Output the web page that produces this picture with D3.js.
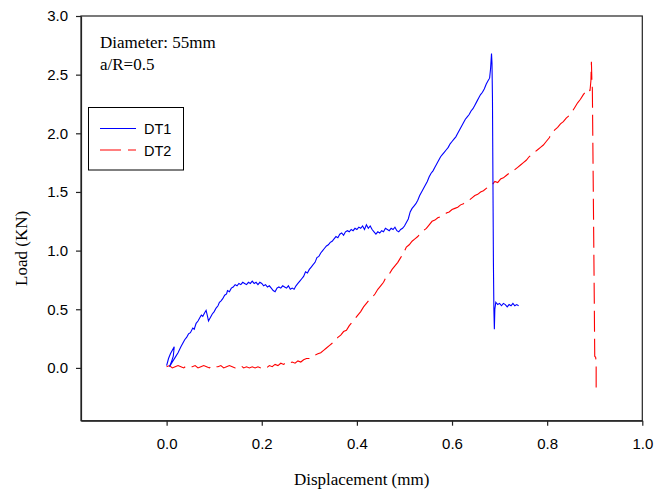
<!DOCTYPE html>
<html>
<head>
<meta charset="utf-8">
<script src="https://cdn.jsdelivr.net/npm/d3@7"></script>
<style>
  html, body { margin: 0; padding: 0; background: #fff; }
  svg { display: block; }
</style>
</head>
<body>
<svg id="chart" width="670" height="492"></svg>
<script>
// Load–displacement records of two disc tests
const seriesNames = ["DT1", "DT2"];

const dt1Disp = [0.000,0.004,0.008,0.012,0.016,0.014,0.010,0.006,0.012,0.018,0.024,0.030,0.034,0.038,0.042,0.046,0.050,0.055,0.058,0.062,0.066,0.070,0.073,0.076,0.080,0.083,0.086,0.088,0.092,0.096,0.100,0.104,0.108,0.111,0.114,0.118,0.122,0.126,0.128,0.132,0.136,0.140,0.144,0.148,0.152,0.156,0.160,0.164,0.168,0.172,0.176,0.180,0.184,0.188,0.192,0.196,0.200,0.204,0.208,0.212,0.216,0.220,0.224,0.228,0.232,0.236,0.240,0.244,0.248,0.252,0.256,0.260,0.264,0.268,0.272,0.276,0.280,0.284,0.288,0.292,0.296,0.300,0.304,0.308,0.312,0.316,0.320,0.324,0.328,0.332,0.336,0.340,0.344,0.348,0.352,0.356,0.360,0.364,0.368,0.372,0.376,0.380,0.384,0.388,0.392,0.396,0.400,0.404,0.408,0.412,0.416,0.420,0.424,0.428,0.432,0.436,0.440,0.444,0.448,0.452,0.456,0.460,0.464,0.468,0.472,0.476,0.480,0.484,0.488,0.492,0.496,0.500,0.504,0.508,0.512,0.516,0.520,0.524,0.528,0.532,0.536,0.540,0.544,0.548,0.552,0.556,0.560,0.564,0.568,0.572,0.576,0.580,0.584,0.588,0.592,0.596,0.600,0.604,0.608,0.612,0.616,0.620,0.624,0.628,0.632,0.636,0.640,0.644,0.648,0.652,0.656,0.660,0.664,0.668,0.672,0.676,0.679,0.681,0.683,0.684,0.685,0.686,0.687,0.688,0.689,0.690,0.692,0.696,0.700,0.704,0.708,0.712,0.716,0.720,0.724,0.728,0.732,0.736,0.740];
const dt1Load = [0.02,0.08,0.12,0.15,0.18,0.10,0.05,0.01,0.05,0.09,0.13,0.18,0.21,0.24,0.26,0.29,0.30,0.34,0.33,0.38,0.40,0.43,0.45,0.44,0.47,0.49,0.44,0.40,0.43,0.46,0.48,0.51,0.53,0.56,0.57,0.59,0.62,0.63,0.66,0.65,0.68,0.69,0.71,0.70,0.72,0.71,0.73,0.72,0.71,0.73,0.72,0.74,0.72,0.73,0.71,0.73,0.72,0.70,0.71,0.69,0.70,0.68,0.66,0.65,0.68,0.69,0.68,0.70,0.69,0.68,0.70,0.67,0.68,0.67,0.70,0.72,0.74,0.76,0.78,0.82,0.81,0.84,0.86,0.88,0.90,0.94,0.95,0.98,1.00,1.02,1.04,1.05,1.07,1.08,1.10,1.12,1.11,1.14,1.15,1.13,1.16,1.17,1.16,1.18,1.17,1.19,1.18,1.20,1.19,1.21,1.18,1.22,1.19,1.21,1.18,1.16,1.14,1.16,1.15,1.17,1.16,1.19,1.18,1.17,1.19,1.18,1.20,1.17,1.16,1.18,1.19,1.21,1.24,1.27,1.33,1.36,1.38,1.40,1.43,1.47,1.50,1.53,1.56,1.59,1.63,1.66,1.68,1.71,1.74,1.77,1.80,1.82,1.84,1.86,1.88,1.91,1.93,1.95,1.97,2.00,2.03,2.06,2.09,2.12,2.14,2.16,2.19,2.21,2.24,2.27,2.30,2.33,2.35,2.38,2.42,2.45,2.47,2.55,2.68,2.60,2.30,1.60,0.90,0.50,0.33,0.50,0.56,0.54,0.55,0.53,0.55,0.54,0.52,0.54,0.53,0.55,0.53,0.54,0.53];

const dt2Disp = [0.000,0.006,0.012,0.018,0.024,0.030,0.036,0.042,0.048,0.054,0.060,0.066,0.072,0.078,0.084,0.090,0.096,0.102,0.108,0.114,0.120,0.126,0.132,0.138,0.144,0.150,0.156,0.162,0.168,0.174,0.180,0.186,0.192,0.198,0.204,0.210,0.216,0.222,0.228,0.234,0.240,0.246,0.252,0.258,0.264,0.270,0.276,0.282,0.288,0.294,0.300,0.306,0.312,0.318,0.324,0.330,0.336,0.342,0.348,0.354,0.360,0.366,0.372,0.378,0.384,0.390,0.396,0.402,0.408,0.414,0.420,0.426,0.432,0.438,0.444,0.450,0.456,0.462,0.468,0.474,0.480,0.486,0.492,0.498,0.504,0.510,0.516,0.522,0.528,0.534,0.540,0.546,0.552,0.558,0.564,0.570,0.576,0.582,0.588,0.594,0.600,0.606,0.612,0.618,0.624,0.630,0.636,0.642,0.648,0.654,0.660,0.666,0.672,0.678,0.684,0.690,0.696,0.702,0.708,0.714,0.720,0.726,0.732,0.738,0.744,0.750,0.756,0.762,0.768,0.774,0.780,0.786,0.792,0.798,0.804,0.810,0.816,0.822,0.828,0.834,0.840,0.846,0.852,0.858,0.864,0.870,0.876,0.882,0.888,0.890,0.892,0.893,0.894,0.895,0.897,0.899,0.900,0.902,0.903,0.903];
const dt2Load = [0.01,0.02,0.00,0.01,0.02,0.01,0.00,0.02,0.01,0.01,0.02,0.00,0.01,0.02,0.01,0.00,0.02,0.01,0.01,0.02,0.00,0.01,0.02,0.01,0.00,0.01,0.02,0.00,0.01,0.00,0.01,0.00,0.01,0.00,0.01,0.00,0.02,0.01,0.03,0.02,0.04,0.03,0.05,0.04,0.05,0.04,0.06,0.05,0.07,0.08,0.08,0.10,0.11,0.12,0.13,0.15,0.17,0.19,0.21,0.23,0.26,0.28,0.31,0.32,0.36,0.39,0.42,0.45,0.48,0.52,0.55,0.58,0.60,0.63,0.67,0.70,0.73,0.78,0.80,0.84,0.87,0.90,0.94,0.98,1.03,1.05,1.08,1.10,1.12,1.15,1.17,1.19,1.22,1.25,1.26,1.28,1.29,1.30,1.32,1.33,1.35,1.36,1.37,1.39,1.40,1.42,1.43,1.45,1.47,1.48,1.50,1.51,1.53,1.55,1.56,1.59,1.58,1.61,1.62,1.64,1.66,1.67,1.69,1.71,1.73,1.75,1.77,1.80,1.82,1.84,1.86,1.88,1.90,1.93,1.96,2.00,2.03,2.05,2.08,2.10,2.13,2.15,2.18,2.22,2.26,2.29,2.33,2.36,2.38,2.36,2.45,2.61,2.45,2.38,1.50,0.60,0.10,0.09,0.05,-0.20];

const xTicks = [0.0, 0.2, 0.4, 0.6, 0.8, 1.0];
const yTicks = [0.0, 0.5, 1.0, 1.5, 2.0, 2.5, 3.0];
const annotations = ["Diameter: 55mm", "a/R=0.5"];

const svg = d3.select("#chart");
const plot = { left: 81, top: 16, right: 642.3, bottom: 420.7 };

const x = d3.scaleLinear().domain([-0.18, 1.0]).range([plot.left, plot.right]);
const y = d3.scaleLinear().domain([-0.45, 3.0]).range([plot.bottom, plot.top]);

const axisColor = "#222";
const tickFont = "'Liberation Sans', Arial, sans-serif";
const serifFont = "'Liberation Serif', 'Times New Roman', serif";

// frame
svg.append("rect")
  .attr("x", plot.left).attr("y", plot.top)
  .attr("width", plot.right - plot.left).attr("height", plot.bottom - plot.top)
  .attr("fill", "none").attr("stroke", axisColor).attr("stroke-width", 1.2);

// axes
const xAxis = svg.append("g")
  .attr("transform", `translate(0,${plot.bottom})`)
  .call(d3.axisBottom(x).tickValues(xTicks).tickFormat(d3.format(".1f")).tickSize(5).tickPadding(13).tickSizeOuter(0));
const yAxis = svg.append("g")
  .attr("transform", `translate(${plot.left},0)`)
  .call(d3.axisLeft(y).tickValues(yTicks).tickFormat(d3.format(".1f")).tickSize(5).tickPadding(8).tickSizeOuter(0));

[xAxis, yAxis].forEach(g => {
  g.select(".domain").attr("stroke", axisColor).attr("stroke-width", 1.2);
  g.selectAll(".tick line").attr("stroke", axisColor).attr("stroke-width", 1.2);
  g.selectAll(".tick text").attr("fill", "#000").style("font-family", tickFont).style("font-size", "15px");
});

// axis titles
svg.append("text")
  .attr("x", (plot.left + plot.right) / 2).attr("y", 485)
  .attr("text-anchor", "middle")
  .style("font-family", serifFont).style("font-size", "17px")
  .text("Displacement (mm)");
svg.append("text")
  .attr("transform", `translate(27,${(plot.top + plot.bottom) / 2 + 30}) rotate(-90)`)
  .attr("text-anchor", "middle")
  .style("font-family", serifFont).style("font-size", "17px")
  .text("Load (KN)");

// specimen annotation
annotations.forEach((t, i) => {
  svg.append("text")
    .attr("x", 100).attr("y", 48 + i * 22)
    .style("font-family", serifFont).style("font-size", "17px")
    .text(t);
});

// curves
const line = d3.line().x(d => x(d[0])).y(d => y(d[1]));
const dt1 = dt1Disp.map((d, i) => [d, dt1Load[i]]);
const dt2 = dt2Disp.map((d, i) => [d, dt2Load[i]]);

svg.append("path").datum(dt2)
  .attr("d", line).attr("fill", "none")
  .attr("stroke", "#ff0000").attr("stroke-width", 1.1)
  .attr("stroke-dasharray", "21,7");

svg.append("path").datum(dt1)
  .attr("d", line).attr("fill", "none")
  .attr("stroke", "#0000ff").attr("stroke-width", 1.1);

// legend
const legend = svg.append("g");
legend.append("rect")
  .attr("x", 88.5).attr("y", 107.5).attr("width", 95).attr("height", 62.5)
  .attr("fill", "#fff").attr("stroke", "#000").attr("stroke-width", 1);
const legendStyles = [
  { color: "#0000ff", dash: null, y: 128.5 },
  { color: "#ff0000", dash: "21,7", y: 150 }
];
seriesNames.forEach((name, i) => {
  const s = legendStyles[i];
  legend.append("line")
    .attr("x1", 100).attr("x2", 136).attr("y1", s.y).attr("y2", s.y)
    .attr("stroke", s.color).attr("stroke-width", 1.2)
    .attr("stroke-dasharray", s.dash);
  legend.append("text")
    .attr("x", 144).attr("y", s.y + 5.5)
    .style("font-family", tickFont).style("font-size", "14.5px")
    .text(name);
});
</script>
</body>
</html>
